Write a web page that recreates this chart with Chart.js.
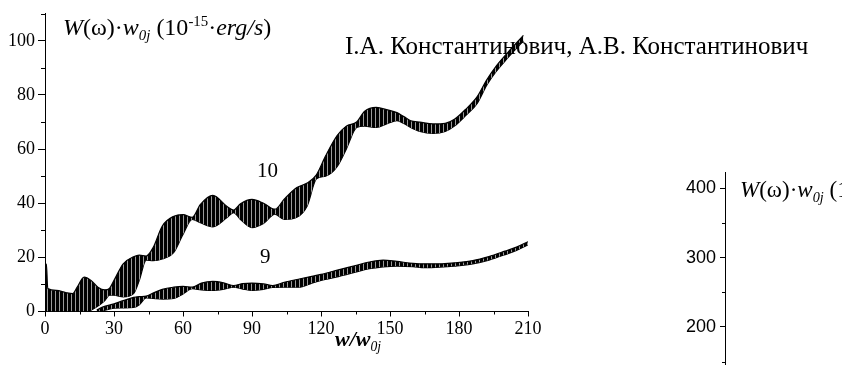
<!DOCTYPE html>
<html><head><meta charset="utf-8">
<script src="https://cdn.jsdelivr.net/npm/chart.js@4"></script>
<style>
html,body{margin:0;padding:0;background:#fff;}
#wrap{position:relative;width:842px;height:365px;overflow:hidden;background:#fff;}
canvas{position:absolute;}
.t{position:absolute;font-family:'Liberation Serif','Times New Roman',serif;color:#000;white-space:nowrap;line-height:1;}
.t i{font-style:italic;}
.sb{position:relative;top:.38em;font-size:.62em;font-style:italic;}
.sp{position:relative;top:-.55em;font-size:.62em;}
</style></head><body>
<div id="wrap">
<canvas id="c1" width="842" height="365" style="left:0;top:0;width:842px;height:365px"></canvas>
<canvas id="c2" width="242" height="205" style="left:600px;top:160px;width:242px;height:205px"></canvas>
<div class="t" style="left:63px;top:14.5px;font-size:24px"><i>W</i>(ω)·<i>w</i><span class="sb">0j</span> (10<span class="sp">-15</span>·<i>erg/s</i>)</div>
<div class="t" style="left:345px;top:32.5px;font-size:25px">I.A. Константинович, А.В. Константинович</div>
<div class="t" style="left:257px;top:159.5px;font-size:21px">10</div>
<div class="t" style="left:260px;top:245.5px;font-size:21px">9</div>
<div class="t" style="left:335px;top:328px;font-size:22px;font-weight:bold;font-style:italic">w/w<span class="sb" style="font-weight:normal">0j</span></div>
<div class="t" style="left:740px;top:177.5px;font-size:23px"><i>W</i>(ω)·<i>w</i><span class="sb">0j</span> (1</div>
</div>
<script>
// ---- data ----
const curve10X     = [0, 0.6, 1.2, 5, 9, 12, 14, 17, 20, 23, 26, 28, 30, 34, 38.5, 41, 44, 47, 51, 56, 60, 64, 67.5, 73, 79, 82, 85, 90, 95, 100, 104, 109.5, 114, 118, 122, 127, 131, 135.5, 139, 144, 149, 153, 156, 159, 163, 168.7, 174, 178, 183, 188, 192, 196, 201, 208];
const curve10Upper = [17.5, 17.5, 8.5, 7.8, 7, 6.6, 9, 12.7, 11.5, 9, 8, 8.5, 11.5, 17.6, 20.2, 20.8, 20.5, 23.6, 31.6, 35.2, 35.8, 34.8, 39.5, 42.9, 38.9, 37.5, 39.8, 41.4, 40, 37.8, 41.5, 45.8, 47.5, 50.5, 57.5, 65, 68.5, 70, 74, 75.4, 74.5, 73.5, 72, 70.5, 70, 69.3, 69.5, 71, 74.8, 79.5, 85.5, 90.5, 95.5, 102];
const curve10Lower = [0, 0, 0, 0, 0, 0, 0, 0, 0.5, 2, 4, 6, 6, 5.4, 6.6, 11.5, 19, 18.8, 19.4, 21.8, 28.5, 34, 32.8, 31.3, 34.6, 36.5, 34, 31, 32.5, 36, 34, 34.8, 39, 49, 50, 53.5, 60, 68, 68.5, 68, 69.5, 70.5, 69.5, 68, 66.5, 65.8, 66.5, 68.5, 72.5, 77, 83.5, 88.5, 93.5, 100];

const curve9X     = [22.5, 25, 30, 34, 38.5, 41, 44, 47, 51, 56, 60, 64, 68, 73, 78, 82, 86, 90, 95, 99, 104, 111, 116, 120, 128, 135, 141, 147, 153, 160, 165, 171.7, 178, 186, 193, 200, 205, 210];
const curve9Upper = [0.5, 1.6, 2.8, 4, 5.2, 5.5, 5.7, 6.8, 8.2, 9, 9.3, 9, 10.5, 11.1, 10.5, 9.6, 10.3, 10.5, 10.2, 9.6, 10.8, 12.1, 13, 13.7, 15.5, 17, 18.3, 19, 18.5, 17.8, 17.6, 17.6, 18, 18.8, 20.3, 22.3, 23.8, 25.8];
const curve9Lower = [0, 0.3, 1.2, 1.3, 1.5, 2.5, 5, 4.8, 4.6, 4.8, 6.5, 8.4, 8, 7.8, 8.3, 9, 8.3, 7.8, 8.2, 8.9, 9, 9, 10.5, 11.5, 13, 14.5, 15.8, 16.5, 16.8, 16.6, 16.2, 16.4, 16.8, 17.6, 19, 21, 22.6, 24.6];

const xTicks  = [0, 30, 60, 90, 120, 150, 180, 210];
const xMinor  = [15, 45, 75, 105, 135, 165, 195];
const yTicks  = [0, 20, 40, 60, 80, 100];
const yMinor  = [10, 30, 50, 70, 90, 110];
const y2Ticks = [200, 300, 400];
const y2Minor = [150, 250, 350];

const SERIF = "'Liberation Serif','Times New Roman',serif";
const SANS = "'Liberation Sans',Arial,sans-serif";

const pts = (xs, ys) => xs.map((x, i) => ({x: x, y: ys[i]}));

// striped fill imitating the dense oscillations
const tile = document.createElement('canvas');
tile.width = 4; tile.height = 4;
const tctx = tile.getContext('2d');
tctx.fillStyle = '#000'; tctx.fillRect(0, 0, 4, 4);
tctx.fillStyle = '#9a9a9a'; tctx.fillRect(3, 0, 1, 4);
const stripe = tctx.createPattern(tile, 'repeat');

const minorTicks = {
  id: 'minorTicks',
  afterDraw(chart, args, o) {
    const ctx = chart.ctx;
    ctx.save();
    ctx.strokeStyle = '#000';
    ctx.lineWidth = 1;
    if (o.y) {
      const s = chart.scales.y;
      o.y.forEach(v => {
        const p = Math.round(s.getPixelForValue(v)) + 0.5;
        ctx.beginPath(); ctx.moveTo(s.right - o.ylen, p); ctx.lineTo(s.right, p); ctx.stroke();
      });
    }
    if (o.x) {
      const s = chart.scales.x;
      o.x.forEach(v => {
        const p = Math.round(s.getPixelForValue(v)) + 0.5;
        ctx.beginPath(); ctx.moveTo(p, s.top); ctx.lineTo(p, s.top + o.xlen); ctx.stroke();
      });
    }
    ctx.restore();
  }
};

const band = (xs, up, lo) => [
  {data: pts(xs, up), borderColor: '#000', backgroundColor: stripe, borderWidth: 1.2, pointRadius: 0, fill: '+1', cubicInterpolationMode: 'monotone'},
  {data: pts(xs, lo), borderColor: '#000', backgroundColor: '#000', borderWidth: 1.2, pointRadius: 0, fill: false, cubicInterpolationMode: 'monotone'}
];

new Chart(document.getElementById('c1'), {
  type: 'line',
  data: {datasets: [...band(curve10X, curve10Upper, curve10Lower), ...band(curve9X, curve9Upper, curve9Lower)]},
  plugins: [minorTicks],
  options: {
    responsive: false, animation: false, devicePixelRatio: 1,
    layout: {padding: {left: 0, top: 10, right: 314, bottom: 0}},
    plugins: {legend: {display: false}, tooltip: {enabled: false},
      minorTicks: {x: xMinor, y: yMinor, xlen: 3, ylen: 4}},
    scales: {
      x: {type: 'linear', min: 0, max: 210,
        afterBuildTicks: s => { s.ticks = xTicks.map(v => ({value: v})); },
        afterFit: s => { s.height = 53.5; },
        border: {display: true, color: '#000', width: 1},
        grid: {display: true, drawOnChartArea: false, tickLength: 5, tickColor: '#000', color: '#000'},
        ticks: {color: '#000', font: {family: SERIF, size: 18}, padding: 2, maxRotation: 0, autoSkip: false}},
      y: {type: 'linear', min: 0, max: 110,
        afterBuildTicks: s => { s.ticks = yTicks.map(v => ({value: v})); },
        afterFit: s => { s.width = 45; },
        border: {display: true, color: '#000', width: 1},
        grid: {display: true, drawOnChartArea: false, tickLength: 7, tickColor: '#000', color: '#000'},
        ticks: {color: '#000', font: {family: SERIF, size: 18}, padding: 3}}
    }
  }
});

new Chart(document.getElementById('c2'), {
  type: 'line',
  data: {datasets: []},
  plugins: [minorTicks],
  options: {
    responsive: false, animation: false, devicePixelRatio: 1,
    layout: {autoPadding: false, padding: {left: 0, top: 12, right: 0, bottom: 0}},
    plugins: {legend: {display: false}, tooltip: {enabled: false},
      minorTicks: {y: y2Minor, ylen: 3}},
    scales: {
      x: {type: 'linear', min: 0, max: 1, display: false},
      y: {type: 'linear', min: 145, max: 423.5,
        afterBuildTicks: s => { s.ticks = y2Ticks.map(v => ({value: v})); },
        afterFit: s => { s.width = 125; s.paddingTop = 0; s.paddingBottom = 0; },
        border: {display: true, color: '#000', width: 1},
        grid: {display: true, drawOnChartArea: false, tickLength: 5, tickColor: '#000', color: '#000'},
        ticks: {color: '#000', font: {family: SANS, size: 18}, padding: 4}}
    }
  }
});
</script>
</body></html>
